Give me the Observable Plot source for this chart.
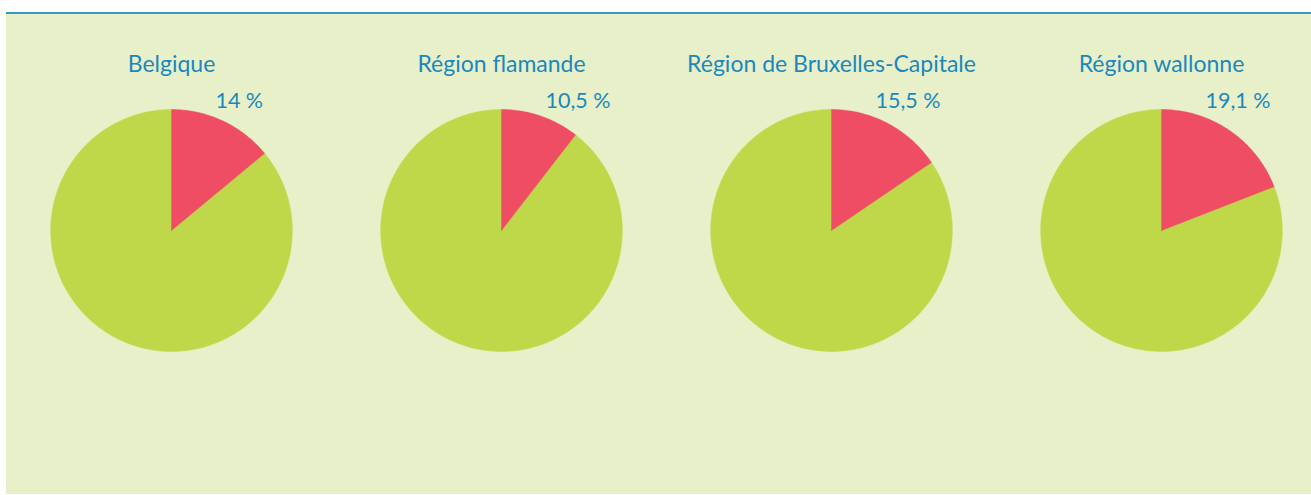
<!DOCTYPE html>
<html>
<head>
<meta charset="utf-8">
<script src="https://cdn.jsdelivr.net/npm/d3@7"></script>
<script src="https://cdn.jsdelivr.net/npm/@observablehq/plot@0.6"></script>
<style>
  html, body { margin: 0; padding: 0; background: #ffffff; overflow: hidden; }
  #wrap { position: relative; width: 1311px; height: 495px; }
  #rule { position: absolute; left: 6px; top: 12px; width: 1305px; height: 2px; background: #3797c5; }
  #panel { position: absolute; left: 6px; top: 14px; width: 1305px; height: 480px; background: #e8f0c9; }
  #chart { position: absolute; left: 0; top: 14px; }
</style>
</head>
<body>
<div id="wrap">
  <div id="rule"></div>
  <div id="panel"></div>
  <div id="chart"></div>
</div>
<script>
// ---- data ----
const regions = ["Belgique", "Région flamande", "Région de Bruxelles-Capitale", "Région wallonne"];
const shares = [14, 10.5, 15.5, 19.1];
const shareLabels = ["14\u202F%", "10,5\u202F%", "15,5\u202F%", "19,1\u202F%"];
const sliceNames = ["part", "reste"];

// ---- build wedge outlines from the data (unit circle, 12 o'clock, clockwise) ----
const pie = d3.pie().sort(null).value(d => d);
const wedges = [];
regions.forEach((region, i) => {
  const arcs = pie([shares[i], 100 - shares[i]]);
  arcs.forEach((a, j) => {
    const n = Math.max(2, Math.ceil((a.endAngle - a.startAngle) / (Math.PI / 180)));
    const pts = [{region, slice: sliceNames[j], x: 0, y: 0}];
    for (let k = 0; k <= n; k++) {
      const t = a.startAngle + (a.endAngle - a.startAngle) * k / n;
      pts.push({region, slice: sliceNames[j], x: Math.sin(t), y: Math.cos(t)});
    }
    pts.push({region, slice: sliceNames[j], x: 0, y: 0});
    wedges.push(...pts);
  });
});
const labelRows = regions.map((r, i) => ({region: r, label: shareLabels[i]}));

const font = "Lato, 'Open Sans', sans-serif";
const blue = "#1a88bd";

const chart = Plot.plot({
  width: 1311,
  height: 480,
  marginLeft: 5,
  marginRight: -16,
  marginTop: 0,
  marginBottom: 0,
  style: {background: "transparent", fontFamily: font, overflow: "visible"},
  fx: {domain: regions, padding: 0, axis: null},
  x: {domain: [-1.3657, 1.3657], axis: null},
  y: {domain: [-2.182, 1.785], axis: null},
  marks: [
    Plot.line(wedges.filter(d => d.slice === "reste"), {
      fx: "region", x: "x", y: "y", z: "region",
      fill: "#bfd849", stroke: "#bfd849", strokeWidth: 0.5, curve: "linear"
    }),
    Plot.line(wedges.filter(d => d.slice === "part"), {
      fx: "region", x: "x", y: "y", z: "region",
      fill: "#ee4d64", stroke: "#ee4d64", strokeWidth: 0.5, curve: "linear"
    }),
    Plot.text(regions, {
      fx: d => d, x: () => 0, y: () => 1.372, text: d => d,
      fill: blue, fontSize: 23, textAnchor: "middle", lineAnchor: "middle"
    }),
    Plot.text(labelRows, {
      fx: "region", x: () => 0.364, y: () => 1.066, text: "label",
      fill: blue, fontSize: 21.5, textAnchor: "start", lineAnchor: "middle"
    })
  ]
});
document.getElementById("chart").appendChild(chart);
</script>
</body>
</html>
